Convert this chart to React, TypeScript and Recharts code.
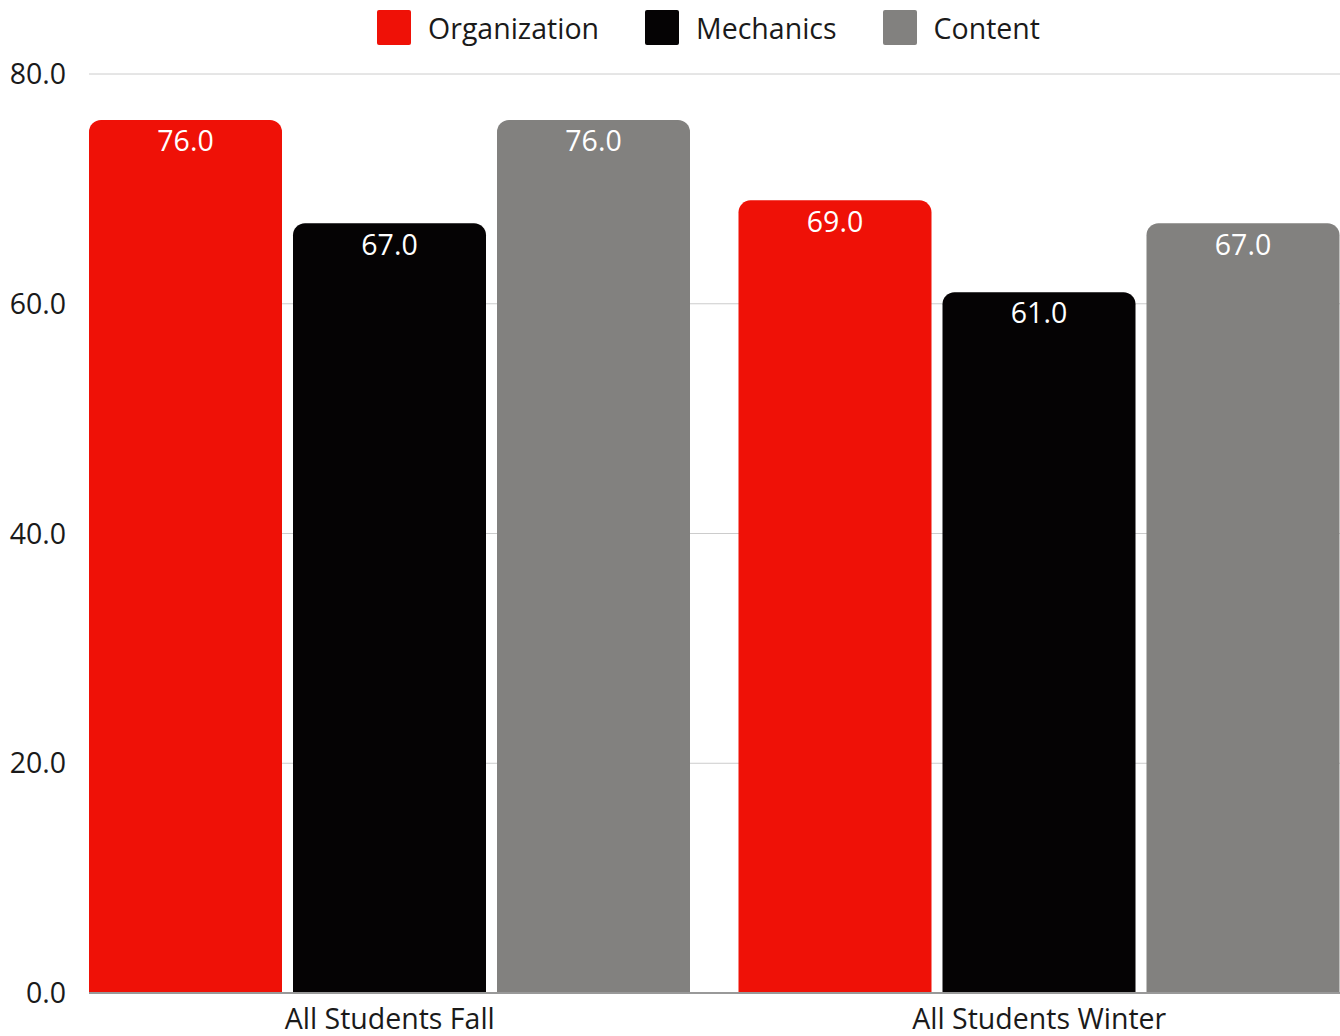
import React from 'react';
import { Bar, BarChart, CartesianGrid, LabelList, Legend, XAxis, YAxis } from 'recharts';

const categories = ['All Students Fall', 'All Students Winter'];
const organization = [76, 69];
const mechanics = [67, 61];
const content = [76, 67];
const yTicks = [0, 20, 40, 60, 80];

const series = [
  { key: 'organization', name: 'Organization', color: '#ef1107' },
  { key: 'mechanics', name: 'Mechanics', color: '#050304' },
  { key: 'content', name: 'Content', color: '#82817f' },
];

const data = categories.map((c, i) => ({
  name: c,
  organization: organization[i],
  mechanics: mechanics[i],
  content: content[i],
}));

const FONT = '"Open Sans", "Noto Sans", sans-serif';
const FS = 28.5;
const fmt = (v: any) => Number(v).toFixed(1);

const TopLegend = () => (
  <div
    style={{
      height: 74,
      width: 1340,
      boxSizing: 'border-box',
      paddingLeft: 77,
      display: 'flex',
      justifyContent: 'center',
      alignItems: 'flex-start',
      fontFamily: FONT,
      fontSize: FS,
      color: '#1a1a1a',
    }}
  >
    {series.map((s) => (
      <div key={s.key} style={{ display: 'flex', alignItems: 'center', margin: '10px 23px 0', height: 35 }}>
        <span style={{ width: 34, height: 35, background: s.color, borderRadius: 2, marginRight: 17 }} />
        <span>{s.name}</span>
      </div>
    ))}
  </div>
);

export default function App() {
  return (
    <div style={{ position: 'absolute', left: 0, top: 0, width: 1340, height: 1036, overflow: 'hidden', background: '#fff' }}>
      <BarChart
        width={1340}
        height={1050}
        data={data}
        margin={{ top: 0, right: 0, bottom: 0, left: 0 }}
        barCategoryGap={24}
        barGap={11}
      >
        <CartesianGrid vertical={false} stroke="#cccccc" />
        <XAxis
          dataKey="name"
          height={57}
          padding={{ left: -24, right: -24 }}
          axisLine={{ stroke: '#999999', strokeWidth: 2 }}
          tickLine={false}
          tickSize={0}
          tickMargin={16}
          tick={{ fill: '#1a1a1a', fontSize: FS, fontFamily: FONT }}
        />
        <YAxis
          width={89}
          domain={[0, 80]}
          ticks={yTicks}
          tickFormatter={fmt}
          axisLine={false}
          tickLine={false}
          tickSize={0}
          tickMargin={23}
          tick={{ fill: '#1a1a1a', fontSize: FS, fontFamily: FONT }}
        />
        <Legend verticalAlign="top" align="center" content={<TopLegend />} />
        {series.map((s) => (
          <Bar key={s.key} dataKey={s.key} name={s.name} fill={s.color} radius={[12, 12, 0, 0]} isAnimationActive={false}>
            <LabelList
              dataKey={s.key}
              position="insideTop"
              offset={11}
              formatter={fmt}
              fill="#ffffff"
              style={{ fontSize: FS, fontFamily: FONT }}
            />
          </Bar>
        ))}
      </BarChart>
    </div>
  );
}
